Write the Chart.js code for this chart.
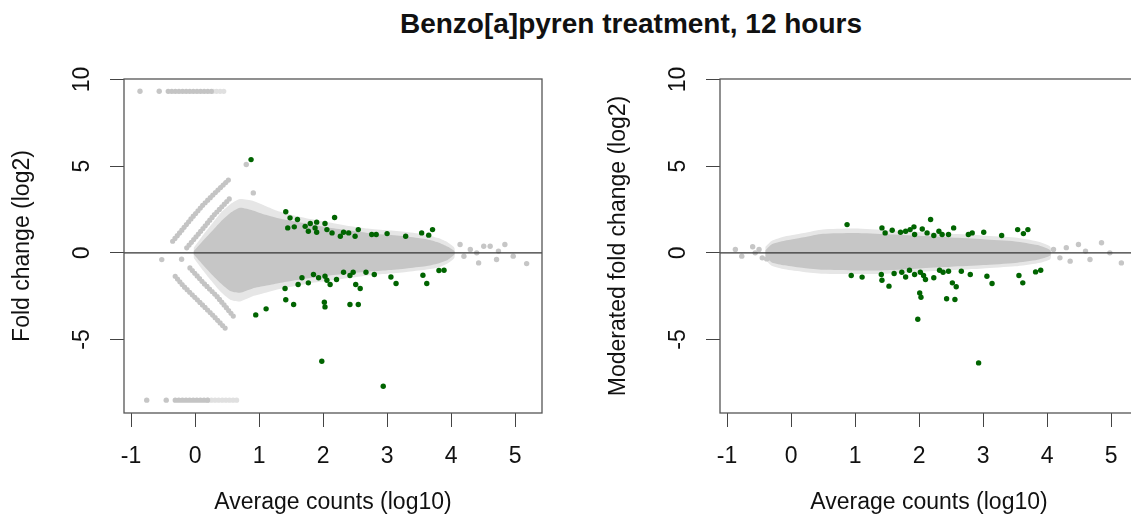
<!DOCTYPE html>
<html>
<head>
<meta charset="utf-8">
<script src="https://cdn.jsdelivr.net/npm/chart.js@4.4.0/dist/chart.umd.min.js"></script>
<style>
  html, body { margin: 0; padding: 0; background: #fff; width: 1131px; height: 529px; overflow: hidden; }
  #title { position: absolute; left: 331px; width: 600px; top: 8px; height: 28px; line-height: 28px;
           text-align: center; font: bold 28px "Liberation Sans", Arial, sans-serif; color: #111; }
  canvas { position: absolute; top: 0; }
  #maRaw { left: 0; }
  #maShrunk { left: 596px; }
</style>
</head>
<body>
<div id="title">Benzo[a]pyren treatment, 12 hours</div>
<canvas id="maRaw" width="560" height="529"></canvas>
<canvas id="maShrunk" width="560" height="529"></canvas>
<script>
// axis ticks
const xTicks = [-1, 0, 1, 2, 3, 4, 5];
const yTicks = [-5, 0, 5, 10];

// ---- raw fold change (left panel) ----
// bulk of the gene cloud: upper / lower edge along mean counts
const rawCloudX     = [-0.02, 0.1, 0.25, 0.4, 0.55, 0.7, 0.9, 1.1, 1.3, 1.5, 1.8, 2.1, 2.4, 2.7, 3.0, 3.3, 3.6, 3.8, 3.95, 4.05];
const rawCloudUpper = [0.1, 0.6, 1.2, 1.8, 2.3, 2.6, 2.45, 2.2, 2.0, 1.85, 1.65, 1.45, 1.3, 1.15, 1.05, 0.95, 0.8, 0.6, 0.35, 0.1];
const rawCloudLower = [-0.1, -0.6, -1.2, -1.75, -2.2, -2.3, -2.05, -1.9, -1.75, -1.62, -1.45, -1.3, -1.2, -1.08, -1.0, -0.9, -0.78, -0.62, -0.4, -0.1];
const rawHaloUpper  = [0.3, 0.9, 1.6, 2.3, 2.8, 3.1, 3.0, 2.7, 2.4, 2.2, 1.95, 1.75, 1.55, 1.4, 1.3, 1.2, 1.05, 0.85, 0.6, 0.3];
const rawHaloLower  = [-0.3, -0.9, -1.6, -2.25, -2.7, -2.8, -2.5, -2.3, -2.1, -1.95, -1.75, -1.6, -1.45, -1.3, -1.2, -1.1, -0.98, -0.85, -0.6, -0.3];

// low-count streaks (zero in one condition) and the clipped rows at the top / bottom
const rawStreakX = [-0.35, -0.22, -0.05, 0.13, 0.34, 0.53, null,
                    -0.13, 0.1, 0.3, 0.55, null,
                    -0.31, -0.18, 0.03, 0.24, 0.49, null,
                    -0.08, 0.13, 0.34, 0.6, null,
                    -0.42, 0.28, null,
                    -0.31, 0.2];
const rawStreakY = [0.67, 1.25, 2.02, 2.79, 3.56, 4.23, null,
                    0.29, 1.3, 2.2, 3.17, null,
                    -1.35, -1.92, -2.69, -3.46, -4.42, null,
                    -0.87, -1.73, -2.5, -3.66, null,
                    9.32, 9.32, null,
                    -8.5, -8.5];
// fainter tail of the clipped rows
const rawFadeX = [0.28, 0.47, null, 0.2, 0.65];
const rawFadeY = [9.32, 9.32, null, -8.5, -8.5];

// scattered grey genes outside the bulk
const rawGreyX = [-0.86, -0.56, -0.755, -0.45, -0.52, -0.21, 0.80, 0.91, 4.14, 4.30, 4.43, 4.51, 4.61, 4.74, 4.84, 4.97, 5.18, 4.71, 4.2, 4.4];
const rawGreyY = [9.32, 9.32, -8.5, -8.5, -0.39, -0.37, 5.1, 3.46, 0.48, 0.19, -0.58, 0.38, 0.38, 0.1, 0.48, -0.19, -0.62, -0.38, -0.2, 0.0];

// significant genes
const rawSigX = [0.875, 1.417, 1.484, 1.60, 1.448, 1.55, 1.72, 1.80, 1.90, 1.77, 1.875, 2.03, 2.18, 1.90, 2.06, 2.14, 2.27, 2.32, 2.40, 2.50,
                 2.55, 2.76, 2.83, 3.00, 3.29, 3.54, 3.65, 3.71,
                 0.948, 1.11, 1.406, 1.417, 1.54, 1.61, 1.67, 1.77, 1.85, 1.93, 2.03, 2.06, 2.11, 2.02, 2.03, 2.21, 2.32, 2.42, 2.47, 2.51,
                 2.58, 2.42, 2.55, 2.67, 2.80, 3.06, 3.14, 3.56, 3.62, 3.81, 3.89, 1.98, 2.94];
const rawSigY = [5.38, 2.37, 2.02, 1.92, 1.44, 1.50, 1.53, 1.69, 1.77, 1.25, 1.44, 1.69, 2.04, 1.19, 1.34, 1.15, 0.96, 1.19, 1.15, 0.96,
                 1.34, 1.06, 1.06, 1.11, 0.96, 1.15, 1.02, 1.34,
                 -3.58, -3.23, -2.06, -2.71, -2.98, -1.83, -1.44, -1.73, -1.25, -1.44, -1.35, -1.58, -1.83, -2.85, -3.12, -1.54, -1.12, -1.31, -1.12, -1.83,
                 -2.06, -2.98, -2.98, -1.12, -1.25, -1.39, -1.77, -1.29, -1.77, -1.02, -1.00, -6.25, -7.70];

// ---- moderated fold change (right panel) ----
const modCloudX     = [-0.4, -0.3, -0.1, 0.2, 0.5, 1.0, 1.5, 2.0, 2.5, 3.0, 3.5, 3.85, 4.05];
const modCloudUpper = [0.15, 0.5, 0.7, 0.9, 1.1, 1.15, 1.08, 0.98, 0.88, 0.78, 0.66, 0.45, 0.15];
const modCloudLower = [-0.2, -0.55, -0.72, -0.88, -0.98, -1.02, -1.0, -0.9, -0.8, -0.7, -0.58, -0.4, -0.15];
const modHaloUpper  = [0.35, 0.7, 0.95, 1.15, 1.35, 1.4, 1.3, 1.2, 1.1, 1.0, 0.88, 0.65, 0.35];
const modHaloLower  = [-0.4, -0.75, -0.95, -1.1, -1.2, -1.22, -1.2, -1.1, -1.0, -0.9, -0.78, -0.6, -0.35];

const modGreyX = [-0.87, -0.77, -0.6, -0.56, -0.5, -0.45, -0.38, 4.1, 4.2, 4.36, 4.49, 4.67, 4.85, 4.98, 5.16, 4.3, 4.6];
const modGreyY = [0.19, -0.19, 0.35, 0.0, 0.2, -0.29, -0.35, 0.19, -0.29, -0.48, 0.48, -0.38, 0.58, 0.0, -0.58, 0.3, 0.1];

const modSigX = [0.875, 2.18, 1.42, 1.47, 1.58, 1.71, 1.79, 1.86, 1.92, 1.93, 2.05, 2.125, 2.23, 2.31, 2.36, 2.46, 2.54, 2.77, 2.83, 3.01,
                 3.29, 3.54, 3.63, 3.70,
                 0.94, 1.11, 1.41, 1.42, 1.53, 1.61, 1.73, 1.79, 1.85, 1.93, 2.02, 2.07, 2.10, 2.01, 2.03, 2.23, 2.32, 2.375, 2.46, 2.52,
                 2.58, 2.43, 2.56, 2.66, 2.80, 3.06, 3.14, 3.56, 3.62, 3.82, 3.90, 1.98, 2.93];
const modSigY = [1.63, 1.92, 1.44, 1.15, 1.30, 1.19, 1.25, 1.34, 1.50, 1.06, 1.38, 1.15, 1.00, 1.25, 1.06, 1.06, 1.44, 1.06, 1.15, 1.19,
                 1.00, 1.34, 1.11, 1.34,
                 -1.31, -1.40, -1.25, -1.58, -1.92, -1.19, -1.12, -1.39, -1.00, -1.25, -1.12, -1.31, -1.54, -2.31, -2.56, -1.44, -1.00, -1.12, -1.06, -1.73,
                 -1.96, -2.65, -2.69, -1.06, -1.25, -1.35, -1.77, -1.31, -1.73, -1.10, -1.00, -3.83, -6.35];

const FONT = '"Liberation Sans", Arial, sans-serif';
const GREY = '#c6c6c6';
const HALO = '#e6e6e6';
const SIG = '#006400';

function pairs(xs, ys) {
  return xs.map((x, i) => ({ x: x, y: ys[i] }));
}

// closed outline: along the upper edge, back along the lower edge
function outline(xs, upper, lower) {
  const top = pairs(xs, upper);
  const bottom = pairs(xs, lower).reverse();
  return top.concat(bottom);
}

// box around the plot region and the y = 0 reference line
const framePlugin = {
  id: 'frame',
  afterDatasetsDraw(chart) {
    const { ctx, chartArea: a, scales: { y } } = chart;
    const y0 = y.getPixelForValue(0);
    ctx.save();
    ctx.strokeStyle = '#333';
    ctx.lineWidth = 1.4;
    ctx.beginPath();
    ctx.moveTo(a.left, y0);
    ctx.lineTo(a.right, y0);
    ctx.stroke();
    ctx.strokeStyle = '#555';
    ctx.lineWidth = 1.3;
    ctx.strokeRect(a.left, a.top, a.right - a.left, a.bottom - a.top);
    ctx.restore();
  }
};

function pointSet(xs, ys, color) {
  return {
    data: pairs(xs, ys), showLine: false,
    pointRadius: 2.7, pointBackgroundColor: color, pointBorderWidth: 0, pointHoverRadius: 0
  };
}

// beaded line of overlapping dots
function beadSet(xs, ys, color) {
  return {
    data: pairs(xs, ys), spanGaps: false, pointRadius: 0, fill: false,
    borderColor: color, borderWidth: 5.2, borderCapStyle: 'round', borderDash: [0, 3.6]
  };
}

function areaSet(data, color) {
  return {
    data: data, fill: 'shape', backgroundColor: color,
    borderWidth: 0, pointRadius: 0, tension: 0.2
  };
}

function makeChart(id, yTitle, datasets) {
  return new Chart(document.getElementById(id), {
    type: 'line',
    data: { datasets: datasets },
    plugins: [framePlugin],
    options: {
      responsive: false,
      animation: false,
      events: [],
      layout: { padding: { top: 79, right: 18, left: 0, bottom: 0 } },
      plugins: { legend: { display: false }, tooltip: { enabled: false } },
      scales: {
        x: {
          type: 'linear', min: -1.11, max: 5.42,
          afterBuildTicks: s => { s.ticks = xTicks.map(v => ({ value: v })); },
          afterFit: s => { s.height = 116; },
          border: { display: false },
          grid: { drawOnChartArea: false, drawTicks: true, tickLength: 14, color: '#444', lineWidth: 1 },
          ticks: { autoSkip: false, padding: 16, color: '#111', font: { family: FONT, size: 23 }, callback: v => String(v) },
          title: { display: true, text: 'Average counts (log10)', color: '#111',
                   font: { family: FONT, size: 23 }, padding: { top: 0, bottom: 13 } }
        },
        y: {
          type: 'linear', min: -9.24, max: 10.03,
          afterBuildTicks: s => { s.ticks = yTicks.map(v => ({ value: v })); },
          afterFit: s => { s.width = 124; },
          border: { display: false },
          grid: { drawOnChartArea: false, drawTicks: true, tickLength: 14, color: '#444', lineWidth: 1 },
          ticks: { autoSkip: false, minRotation: 90, maxRotation: 90, crossAlign: 'center', padding: 15,
                   color: '#111', font: { family: FONT, size: 23 }, callback: v => String(v) },
          title: { display: true, text: yTitle, color: '#111',
                   font: { family: FONT, size: 23 }, padding: { top: 9, bottom: 0 } }
        }
      }
    }
  });
}

// first dataset is drawn on top
makeChart('maRaw', 'Fold change (log2)', [
  pointSet(rawSigX, rawSigY, SIG),
  pointSet(rawGreyX, rawGreyY, GREY),
  beadSet(rawStreakX, rawStreakY, '#c4c4c4'),
  beadSet(rawFadeX, rawFadeY, '#e0e0e0'),
  areaSet(outline(rawCloudX, rawCloudUpper, rawCloudLower), GREY),
  areaSet(outline(rawCloudX, rawHaloUpper, rawHaloLower), HALO)
]);

makeChart('maShrunk', 'Moderated fold change (log2)', [
  pointSet(modSigX, modSigY, SIG),
  pointSet(modGreyX, modGreyY, GREY),
  areaSet(outline(modCloudX, modCloudUpper, modCloudLower), GREY),
  areaSet(outline(modCloudX, modHaloUpper, modHaloLower), HALO)
]);
</script>
</body>
</html>
